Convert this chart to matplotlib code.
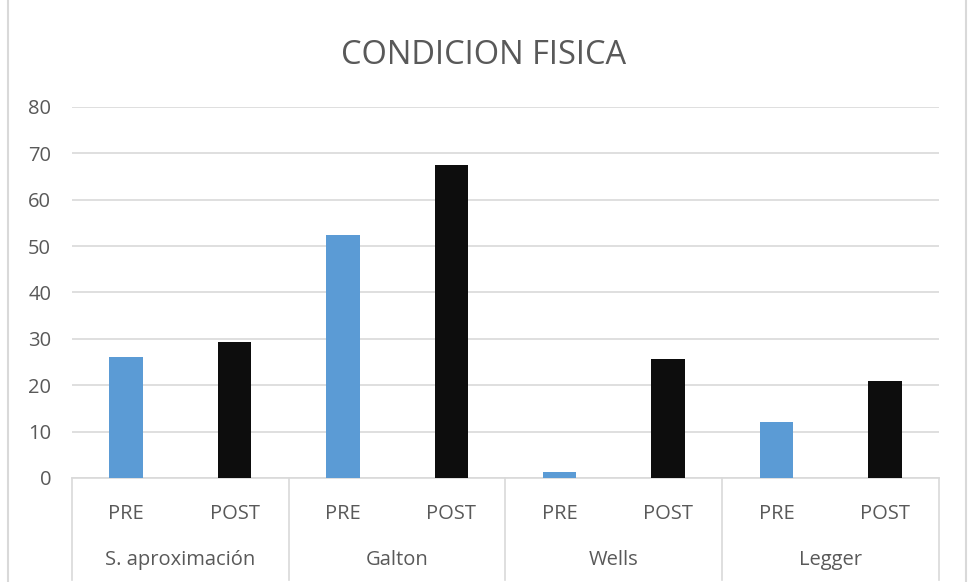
import numpy as np
import matplotlib
matplotlib.use('Agg')
from matplotlib import pyplot as plt
from matplotlib.lines import Line2D

plt.rcParams['font.family'] = ['Open Sans', 'DejaVu Sans']

groups = ['S. aproximación', 'Galton', 'Wells', 'Legger']
phases = ['PRE', 'POST']
pre = [26.1, 52.4, 1.2, 12.1]
post = [29.3, 67.4, 25.7, 20.9]

blue = '#5B9BD5'
black = '#0D0D0D'
grid = '#D9D9D9'
txt = '#595959'

fig = plt.figure(figsize=(9.68, 5.82), dpi=100)
ax = fig.add_axes([0.0744, 0.1787, 0.8956, 0.6375])

n = len(groups)
x_pre = np.arange(n) * 2
x_post = x_pre + 1
width = 0.31

ax.bar(x_pre, pre, width, color=blue, zorder=3)
ax.bar(x_post, post, width, color=black, zorder=3)

ax.set_xlim(-0.5, 2 * n - 0.5)
ax.set_ylim(0, 80)
ax.set_yticks(np.arange(0, 81, 10))
ax.yaxis.grid(True, color=grid, linewidth=1.2, zorder=0)
ax.tick_params(axis='y', length=0, labelsize=14.5, labelcolor=txt, pad=15)
for s in ['top', 'right', 'left']:
    ax.spines[s].set_visible(False)
ax.spines['bottom'].set_color(grid)
ax.spines['bottom'].set_linewidth(1.2)

ticks = np.concatenate([x_pre, x_post])
labels = [phases[0]] * n + [phases[1]] * n
ax.set_xticks(ticks, labels)
ax.tick_params(axis='x', length=0, labelsize=14.5, labelcolor=txt, pad=19)

# group labels and separators
for i, g in enumerate(groups):
    ax.text(x_pre[i] + 0.5, -0.22, g, transform=ax.get_xaxis_transform(),
            ha='center', va='center', fontsize=14.5, color=txt)
for b in np.arange(n + 1) * 2 - 0.5:
    ax.add_line(Line2D([b, b], [0, -0.275], transform=ax.get_xaxis_transform(),
                       color=grid, linewidth=1.2, clip_on=False))

fig.text(0.5, 0.905, 'CONDICION FISICA', ha='center', va='center',
         fontsize=23.5, color=txt)

# chart border
for xb in [8 / 968, 966 / 968]:
    fig.add_artist(Line2D([xb, xb], [0, 1], transform=fig.transFigure,
                          color=grid, linewidth=1.5))

fig.savefig('out.png', dpi=100)
